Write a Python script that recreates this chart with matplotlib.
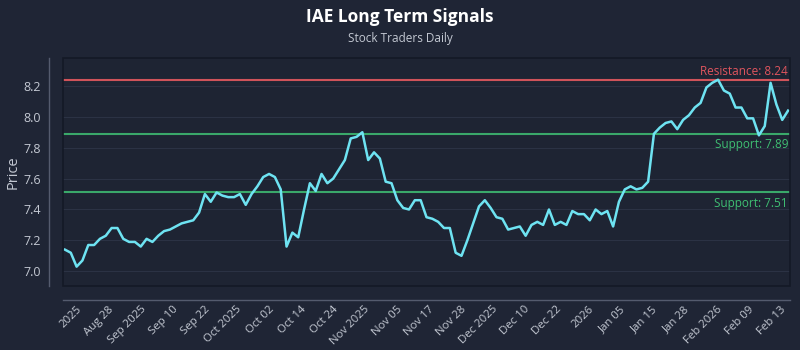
import numpy as np
import matplotlib.pyplot as plt
from matplotlib.patches import Rectangle

# daily closes, Aug 2025 - Feb 2026
prices = [7.14, 7.12, 7.03, 7.07, 7.17, 7.17, 7.21, 7.23, 7.28, 7.28,
          7.21, 7.19, 7.19, 7.16, 7.21, 7.19, 7.23, 7.26, 7.27, 7.29,
          7.31, 7.32, 7.33, 7.38, 7.50, 7.45, 7.51, 7.49, 7.48, 7.48,
          7.50, 7.43, 7.50, 7.55, 7.61, 7.63, 7.61, 7.53, 7.16, 7.25,
          7.22, 7.40, 7.57, 7.52, 7.63, 7.57, 7.60, 7.66, 7.72, 7.86,
          7.87, 7.90, 7.72, 7.77, 7.73, 7.58, 7.57, 7.46, 7.41, 7.40,
          7.46, 7.46, 7.35, 7.34, 7.32, 7.28, 7.28, 7.12, 7.10, 7.20,
          7.31, 7.42, 7.46, 7.41, 7.35, 7.34, 7.27, 7.28, 7.29, 7.23,
          7.30, 7.32, 7.30, 7.40, 7.30, 7.32, 7.30, 7.39, 7.37, 7.37,
          7.33, 7.40, 7.37, 7.39, 7.29, 7.45, 7.53, 7.55, 7.53, 7.54,
          7.58, 7.89, 7.93, 7.96, 7.97, 7.92, 7.98, 8.01, 8.06, 8.09,
          8.19, 8.22, 8.24, 8.17, 8.15, 8.06, 8.06, 7.99, 7.99, 7.88,
          7.94, 8.22, 8.08, 7.98, 8.04]

tick_labels = ["2025", "Aug 28", "Sep 2025", "Sep 10", "Sep 22", "Oct 2025",
               "Oct 02", "Oct 14", "Oct 24", "Nov 2025", "Nov 05", "Nov 17",
               "Nov 28", "Dec 2025", "Dec 10", "Dec 22", "2026", "Jan 05",
               "Jan 15", "Jan 28", "Feb 2026", "Feb 09", "Feb 13"]

resistance = 8.24
supports = [7.89, 7.51]

BG = "#1f2535"
AX_BG = "#1e2433"
TXT = "#c3c8d2"

plt.rcParams['font.family'] = ['Open Sans', 'DejaVu Sans']

fig = plt.figure(figsize=(8, 3.5), dpi=100, facecolor=BG)
ax = fig.add_axes([0.079, 0.183, 0.909, 0.651], facecolor=AX_BG)

# offset spines first: moving a spine resets the tick objects
for side in ['top', 'right']:
    ax.spines[side].set_visible(False)
ax.spines['left'].set_position(('outward', 10))
ax.spines['bottom'].set_position(('outward', 10))
for side in ['left', 'bottom']:
    ax.spines[side].set_color("#545b6e")
    ax.spines[side].set_linewidth(1.0)

x = np.arange(len(prices))
ax.plot(x, prices, color="#6ee3f2", lw=1.8, zorder=4)

ax.axhline(resistance, color="#d0535a", lw=1.5, zorder=3)
ax.text(len(prices) - 1, resistance + 0.012, f"Resistance: {resistance:.2f}",
        color="#e0555e", fontsize=8.5, ha='right', va='bottom')
for s in supports:
    ax.axhline(s, color="#3aa86a", lw=1.5, zorder=3)
    ax.text(len(prices) - 1, s - 0.03, f"Support: {s:.2f}",
            color="#3fbf73", fontsize=8.5, ha='right', va='top')

ax.set_xlim(-0.3, len(prices) - 0.6)
ax.set_ylim(6.905, 8.38)
ax.set_yticks([7.0, 7.2, 7.4, 7.6, 7.8, 8.0, 8.2])
ax.set_yticklabels([f"{v:.1f}" for v in ax.get_yticks()])
ax.grid(axis='y', color="#2b3244", lw=0.8, zorder=0)
ax.set_axisbelow(True)

tick_pos = np.linspace(3.3, len(prices) - 1, len(tick_labels))
ax.set_xticks(tick_pos)
ax.set_xticklabels(tick_labels)

ax.tick_params(colors=TXT, labelsize=9, length=0, pad=6)
ax.tick_params(axis='x', pad=3, labelrotation=45, labelsize=8.2)
plt.setp(ax.get_xticklabels(), ha='right', rotation_mode='default')
ax.set_ylabel("Price", color=TXT, fontsize=10.5, labelpad=2)

# dark frame around the plotting area
ax.add_patch(Rectangle((0, 0), 1, 1, transform=ax.transAxes, fill=False,
                       edgecolor="#141926", lw=1.2, zorder=5, clip_on=False))

fig.text(0.5, 0.95, "IAE Long Term Signals", ha='center', va='center',
         color="white", fontsize=12.5, fontweight='bold')
fig.text(0.5, 0.89, "Stock Traders Daily", ha='center', va='center',
         color=TXT, fontsize=8.5)

fig.savefig("out.png", dpi=100, facecolor=BG)
